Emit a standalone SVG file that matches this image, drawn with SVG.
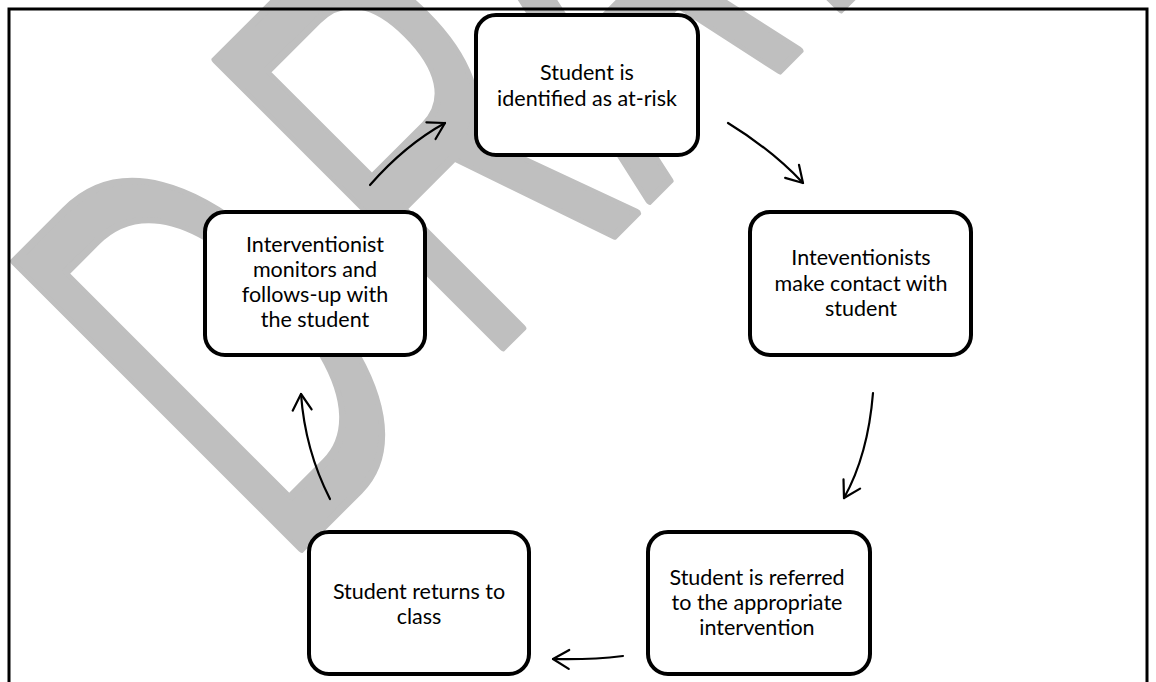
<svg xmlns="http://www.w3.org/2000/svg" width="1156" height="682" viewBox="0 0 1156 682">
<style>
.wm{font-family:"Liberation Sans",Arial,sans-serif;font-size:590px;fill:#bfbfbf;stroke:#bfbfbf;stroke-width:8;stroke-linejoin:round}
.frame{fill:none;stroke:#000;stroke-width:3}
.box{fill:#fff;stroke:#000;stroke-width:4}
.lbl{font-family:Lato,"Open Sans",sans-serif;font-size:21.5px;text-anchor:middle;fill:#000}
.con{fill:none;stroke:#000;stroke-width:2.2;stroke-linecap:round}
</style>
<defs>
<marker id="ah" markerUnits="userSpaceOnUse" markerWidth="24" markerHeight="24" viewBox="-20 -12 24 24" refX="0" refY="0" orient="auto">
<path d="M-16,-9.5 L0,0 L-16,9.5" fill="none" stroke="#000" stroke-width="2.2" stroke-linecap="round" stroke-linejoin="round"/>
</marker>
</defs>
<rect width="1156" height="682" fill="#fff"/>
<g id="watermark">
<text class="wm" transform="rotate(-45) scale(0.55 1)" x="-369 149 573 1018 1382" y="601">DRAFT</text>
</g>
<rect class="frame" x="9" y="9" width="1138" height="700"/>
<g id="connectors">
<path class="con" marker-end="url(#ah)" d="M370,185 Q405,145 445,123"/>
<path class="con" marker-end="url(#ah)" d="M728,123 Q772,150 803,183"/>
<path class="con" marker-end="url(#ah)" d="M873,393 Q868,455 844,498"/>
<path class="con" marker-end="url(#ah)" d="M623,656 Q590,660 553,659"/>
<path class="con" marker-end="url(#ah)" d="M330,499 Q305,450 301,394"/>
</g>
<g id="node-identified">
<rect class="box" x="476" y="15" width="222" height="140" rx="20"/>
<text class="lbl" x="587" y="80">Student is</text>
<text class="lbl" x="587" y="105.5">identified as at-risk</text>
</g>
<g id="node-contact">
<rect class="box" x="750" y="212" width="221" height="143" rx="20"/>
<text class="lbl" x="861" y="265">Inteventionists</text>
<text class="lbl" x="861" y="290.5">make contact with</text>
<text class="lbl" x="861" y="316">student</text>
</g>
<g id="node-referred">
<rect class="box" x="648" y="532" width="222" height="142" rx="20"/>
<text class="lbl" x="757" y="585">Student is referred</text>
<text class="lbl" x="757" y="609.5">to the appropriate</text>
<text class="lbl" x="757" y="635">intervention</text>
</g>
<g id="node-returns">
<rect class="box" x="309" y="532" width="220" height="142" rx="20"/>
<text class="lbl" x="419" y="599">Student returns to</text>
<text class="lbl" x="419" y="624">class</text>
</g>
<g id="node-monitors">
<rect class="box" x="205" y="212" width="220" height="143" rx="20"/>
<text class="lbl" x="315" y="252">Interventionist</text>
<text class="lbl" x="315" y="277">monitors and</text>
<text class="lbl" x="315" y="302">follows-up with</text>
<text class="lbl" x="315" y="327">the student</text>
</g>
</svg>
